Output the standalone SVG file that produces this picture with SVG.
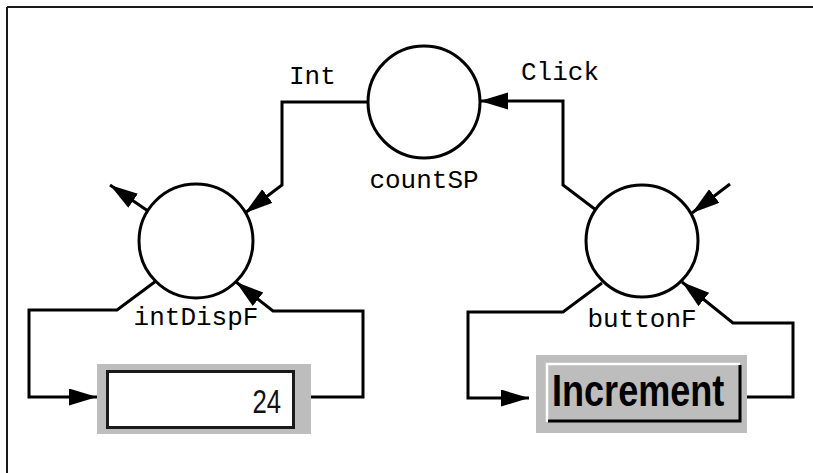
<svg xmlns="http://www.w3.org/2000/svg" width="813" height="473" viewBox="0 0 813 473">
  <style>
    .frame { stroke: #1a1a1a; stroke-width: 2; fill: none; }
    .node { fill: #ffffff; stroke: #000000; stroke-width: 3; }
    .wire { fill: none; stroke: #000000; stroke-width: 3; stroke-linejoin: miter; }
    .arrow { marker-end: url(#head); }
    .label { font-family: "Liberation Mono", "DejaVu Sans Mono", monospace; font-size: 26px; fill: #000000; }
    .panel { fill: #bdbdbd; }
  </style>
  <defs>
    <marker id="head" markerUnits="userSpaceOnUse" markerWidth="30" markerHeight="18" refX="28" refY="8.5" orient="auto">
      <path d="M0,0 L28,8.5 L0,17 Z" fill="#000000"/>
    </marker>
  </defs>

  <rect width="813" height="473" fill="#ffffff"/>

  <!-- window frame (top and left edges) -->
  <g id="frame">
    <line class="frame" x1="7" y1="7" x2="813" y2="7"/>
    <line class="frame" x1="7" y1="7" x2="7" y2="473"/>
  </g>

  <!-- connectors -->
  <g id="connectors">
    <!-- Int: countSP -> intDispF -->
    <polyline class="wire arrow" points="367,102 282,102 282,185 245,213"/>
    <!-- intDispF output -->
    <polyline class="wire arrow" points="148,211 110,185"/>
    <!-- intDispF -> text field -->
    <polyline class="wire arrow" points="156,281 117,310 29,310 29,397 97,397"/>
    <!-- text field -> intDispF -->
    <polyline class="wire arrow" points="311,397 363,397 363,311 273,311 236,282"/>
    <!-- Click: buttonF -> countSP -->
    <polyline class="wire arrow" points="596,210 563,185 563,101 480,101"/>
    <!-- buttonF input -->
    <polyline class="wire arrow" points="730,184 692,213"/>
    <!-- buttonF -> button -->
    <polyline class="wire arrow" points="602,283 563,312 468,312 468,398 529,398"/>
    <!-- button -> buttonF -->
    <polyline class="wire arrow" points="747,397 793,397 793,323 733,323 682,282"/>
  </g>

  <g id="countSP">
    <circle class="node" cx="424" cy="102" r="56"/>
    <text class="label" x="424" y="188" text-anchor="middle">countSP</text>
  </g>

  <g id="intDispF">
    <circle class="node" cx="196" cy="241" r="57"/>
    <text class="label" x="196" y="325" text-anchor="middle">intDispF</text>
  </g>

  <g id="buttonF">
    <circle class="node" cx="642" cy="241" r="56"/>
    <text class="label" x="642" y="327" text-anchor="middle">buttonF</text>
  </g>

  <g id="edge-labels">
    <text class="label" x="289" y="84">Int</text>
    <text class="label" x="521" y="80">Click</text>
  </g>

  <!-- integer display field -->
  <g id="intField">
    <rect class="panel" x="97" y="364" width="214" height="70"/>
    <rect x="107.5" y="371.5" width="186" height="56" fill="#ffffff" stroke="#1a1a1a" stroke-width="3"/>
    <text transform="translate(281,413) scale(0.78,1)" text-anchor="end" font-family="Liberation Sans, Arial, sans-serif" font-size="33" fill="#111111">24</text>
  </g>

  <!-- push button -->
  <g id="incrementButton">
    <rect class="panel" x="536" y="355" width="211" height="78"/>
    <rect x="547" y="364" width="194" height="58" fill="#bdbdbd"/>
    <polyline points="547,422 547,364 740,364" fill="none" stroke="#ffffff" stroke-width="2.5"/>
    <polyline points="548,421 740,421 740,365" fill="none" stroke="#000000" stroke-width="3"/>
    <text transform="translate(552,406) scale(0.82,1)" font-family="Liberation Sans, Arial, sans-serif" font-weight="bold" font-size="44" fill="#000000">Increment</text>
  </g>
</svg>
